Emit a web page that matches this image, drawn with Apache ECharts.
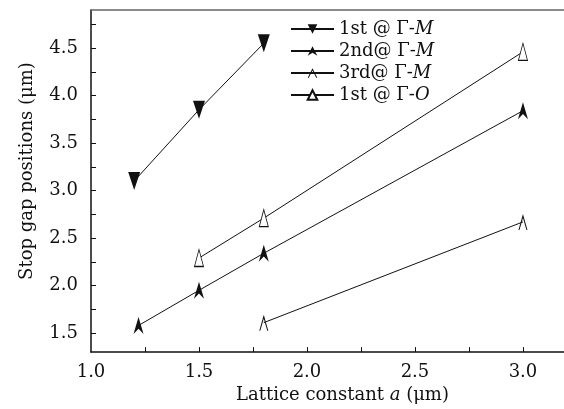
<!DOCTYPE html>
<html><head><meta charset="utf-8">
<script src="https://cdn.jsdelivr.net/npm/echarts@6/dist/echarts.min.js"></script>
<style>html,body{margin:0;padding:0;background:#fff}#c{width:564px;height:409px}</style>
</head><body><div id="c"></div>
<script>
// Data
const s1x = [1.2, 1.5, 1.8];
const s1y = [3.1, 3.85, 4.55];
const s2x = [1.22, 1.5, 1.8, 3.0];
const s2y = [1.58, 1.95, 2.34, 3.84];
const s3x = [1.8, 3.0];
const s3y = [1.61, 2.67];
const s4x = [1.5, 1.8, 3.0];
const s4y = [2.29, 2.71, 4.46];
const seriesNames = ['1st @ Γ-M', '2nd@ Γ-M', '3rd@ Γ-M', '1st @ Γ-O'];
const xLabels = [1.0, 1.5, 2.0, 2.5, 3.0];
const xTicks = [1.25, 1.5, 1.75, 2.0, 2.25, 2.5, 2.75, 3.0];
const yLabels = [1.5, 2.0, 2.5, 3.0, 3.5, 4.0, 4.5];
const yTicks = [1.5, 1.75, 2.0, 2.25, 2.5, 2.75, 3.0, 3.25, 3.5, 3.75, 4.0, 4.25, 4.5, 4.75];

const zip = (xs, ys) => xs.map((x, i) => [x, ys[i]]);
const FONT = '"DejaVu Serif", "Liberation Serif", serif';
const FS = 18;
const INK = '#111';

const symDown = 'path://M0,0 L10,0 L5,16 Z';
const symArrow = 'path://M5,0 L10,16 L5,11 L0,16 Z';
const symChevron = 'path://M4.5,0 L9,16 L8,16 L4.5,4 L1,16 L0,16 Z';
const symTri = 'path://M5,0 L10,16 L0,16 Z';

function mk(name, data, symbol, size, fill) {
  return {
    name, type: 'line', data, symbol, symbolSize: size, showSymbol: true,
    lineStyle: { color: INK, width: 1 },
    itemStyle: { color: fill, borderColor: INK, borderWidth: fill === '#fff' ? 1 : 0 },
    z: 3, animation: false
  };
}

const rich = {
  n: { fontFamily: FONT, fontSize: FS, color: INK },
  i: { fontFamily: FONT, fontSize: FS, color: INK, fontStyle: 'italic' }
};

const chart = echarts.init(document.getElementById('c'));
chart.setOption({
  animation: false,
  backgroundColor: '#fff',
  grid: { left: 91, right: 0, top: 10, bottom: 54 },
  legend: {
    orient: 'vertical', left: 290, top: 20, padding: 0, itemWidth: 43, itemHeight: 12, itemGap: 4,
    data: seriesNames,
    textStyle: { fontFamily: FONT, fontSize: FS, color: INK, rich },
    formatter: function (name) {
      const k = name.lastIndexOf('-');
      return '{n|' + name.slice(0, k + 1) + '}{i|' + name.slice(k + 1) + '}';
    }
  },
  xAxis: [{
    type: 'value', min: 1.0, max: 3.19,
    name: '{n|Lattice constant }{i|a}{n| (μm)}', nameLocation: 'middle', nameGap: 29,
    nameTextStyle: { fontFamily: FONT, fontSize: FS, color: INK, rich, padding: [0, 0, 0, 30] },
    axisLine: { lineStyle: { color: INK, width: 1.5 } },
    axisTick: { inside: true, length: 5, lineStyle: { color: INK }, customValues: xTicks },
    axisLabel: { customValues: xLabels, fontFamily: FONT, fontSize: FS, color: INK, margin: 11,
                 formatter: v => v.toFixed(1) },
    splitLine: { show: false }
  }, {
    type: 'value', position: 'top', min: 1.0, max: 3.19,
    axisLine: { show: true, lineStyle: { color: '#666', width: 1.5 } },
    axisTick: { show: false }, axisLabel: { show: false }, splitLine: { show: false }
  }],
  yAxis: {
    type: 'value', min: 1.3, max: 4.9,
    name: 'Stop gap positions (μm)', nameLocation: 'middle', nameGap: 55,
    nameTextStyle: { fontFamily: FONT, fontSize: FS, color: INK, padding: [0, 0, 0, 20] },
    axisLine: { show: true, lineStyle: { color: INK, width: 1.5 } },
    axisTick: { show: true, inside: true, length: 5, lineStyle: { color: INK }, customValues: yTicks },
    axisLabel: { customValues: yLabels, fontFamily: FONT, fontSize: FS, color: INK, margin: 13,
                 formatter: v => v.toFixed(1) },
    splitLine: { show: false }
  },
  series: [
    mk(seriesNames[0], zip(s1x, s1y), symDown, [12, 18], INK),
    mk(seriesNames[1], zip(s2x, s2y), symArrow, [10, 17], INK),
    mk(seriesNames[2], zip(s3x, s3y), symChevron, [9, 16], INK),
    mk(seriesNames[3], zip(s4x, s4y), symTri, [9, 17], '#fff')
  ]
});
</script></body></html>
